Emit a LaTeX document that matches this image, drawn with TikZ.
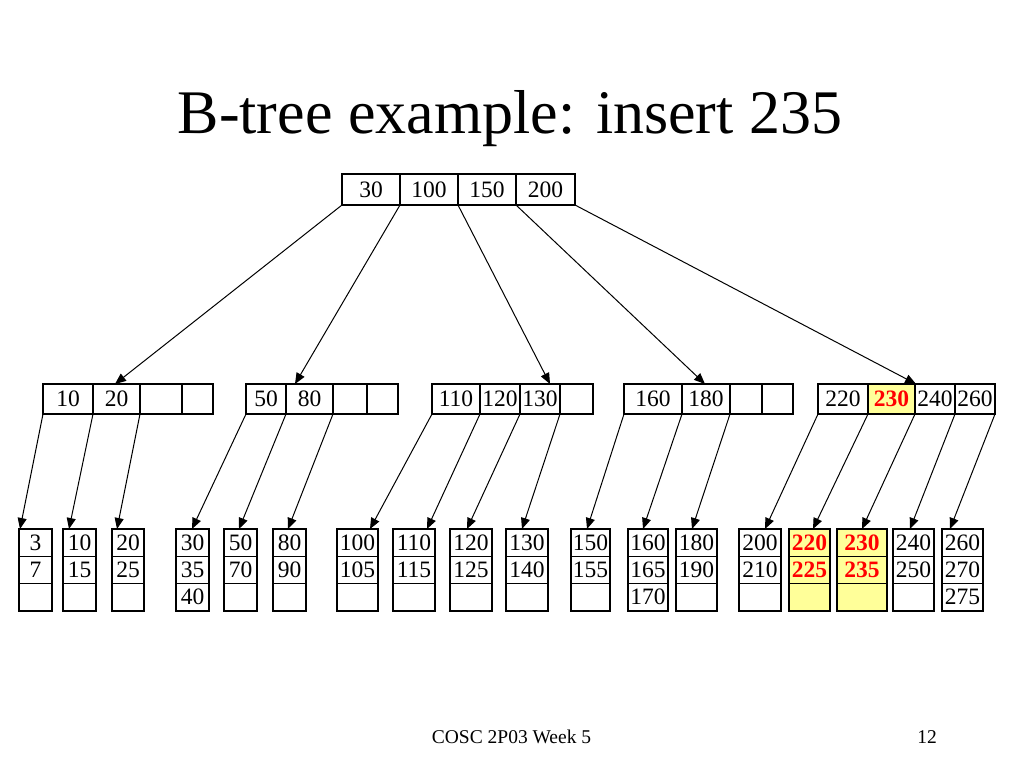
\documentclass[tikz,border=0pt]{standalone}
\usepackage{fontspec}
\setmainfont{Liberation Serif}
\usetikzlibrary{arrows.meta,calc}
\definecolor{hl}{RGB}{255,255,153}
\newcommand\leafnode[7]{%
  \node[cell,#7,minimum width=#3pt,minimum height=27.3pt] (#1a) at (#2,529) {#4};
  \node[cell,#7,minimum width=#3pt,minimum height=27.3pt] (#1b) at (#1a.south west) {#5};
  \node[cell,#7,minimum width=#3pt,minimum height=27.3pt] (#1c) at (#1b.south west) {#6};}
\begin{document}
\begin{tikzpicture}[x=1pt,y=-1pt,
  cell/.style={draw,line width=1.5pt,inner sep=0pt,outer sep=0pt,anchor=north west,font=\fontsize{23.5}{23.5}\selectfont},
  hot/.style={fill=hl,text=red,font=\fontsize{23.5}{23.5}\selectfont\bfseries},
  plain/.style={},
  link/.style={line width=1pt,-{Triangle[length=11pt,width=9pt]}}]
\useasboundingbox (0,0) rectangle (1024,768);
% title and footer
\node[anchor=base,font=\fontsize{62}{62}\selectfont,inner sep=0pt] (title) at (510,133) {B-tree example: insert 235};
\node[anchor=base,font=\fontsize{19.5}{19.5}\selectfont,inner sep=0pt] (foot) at (511.5,743) {COSC 2P03 Week 5};
\node[anchor=base,font=\fontsize{19.5}{19.5}\selectfont,inner sep=0pt] (page) at (927,743) {12};
% root
\node[cell,minimum width=58pt,minimum height=31pt] (r1) at (342,174) {30};
\node[cell,minimum width=58pt,minimum height=31pt] (r2) at (400,174) {100};
\node[cell,minimum width=58pt,minimum height=31pt] (r3) at (458,174) {150};
\node[cell,minimum width=59pt,minimum height=31pt] (r4) at (516,174) {200};
% level 2
\node[cell,minimum width=50pt,minimum height=30pt] (a1) at (43,384) {10};
\node[cell,minimum width=47pt,minimum height=30pt] (a2) at (93,384) {20};
\node[cell,minimum width=42pt,minimum height=30pt] (a3) at (140,384) {};
\node[cell,minimum width=31pt,minimum height=30pt] (a4) at (182,384) {};
\node[cell,minimum width=40pt,minimum height=30pt] (b1) at (246,384) {50};
\node[cell,minimum width=47pt,minimum height=30pt] (b2) at (286,384) {80};
\node[cell,minimum width=34pt,minimum height=30pt] (b3) at (333,384) {};
\node[cell,minimum width=31pt,minimum height=30pt] (b4) at (367,384) {};
\node[cell,minimum width=48pt,minimum height=30pt] (c1) at (432,384) {110};
\node[cell,minimum width=40pt,minimum height=30pt] (c2) at (480,384) {120};
\node[cell,minimum width=40pt,minimum height=30pt] (c3) at (520,384) {130};
\node[cell,minimum width=33pt,minimum height=30pt] (c4) at (560,384) {};
\node[cell,minimum width=58pt,minimum height=30pt] (d1) at (624,384) {160};
\node[cell,minimum width=48pt,minimum height=30pt] (d2) at (682,384) {180};
\node[cell,minimum width=32pt,minimum height=30pt] (d3) at (730,384) {};
\node[cell,minimum width=31pt,minimum height=30pt] (d4) at (762,384) {};
\node[cell,minimum width=50pt,minimum height=30pt] (e1) at (818,384) {220};
\node[cell,hot,minimum width=47pt,minimum height=30pt] (e2) at (868,384) {230};
\node[cell,minimum width=40pt,minimum height=30pt] (e3) at (915,384) {240};
\node[cell,minimum width=40pt,minimum height=30pt] (e4) at (955,384) {260};
% leaves
\leafnode{L1}{19}{33}{3}{7}{}{plain}
\leafnode{L2}{63}{33}{10}{15}{}{plain}
\leafnode{L3}{112}{32}{20}{25}{}{plain}
\leafnode{L4}{176}{33}{30}{35}{40}{plain}
\leafnode{L5}{224}{33}{50}{70}{}{plain}
\leafnode{L6}{273}{33}{80}{90}{}{plain}
\leafnode{L7}{337}{41}{100}{105}{}{plain}
\leafnode{L8}{393}{42}{110}{115}{}{plain}
\leafnode{L9}{450}{42}{120}{125}{}{plain}
\leafnode{L10}{506}{42}{130}{140}{}{plain}
\leafnode{L11}{571}{39}{150}{155}{}{plain}
\leafnode{L12}{628}{40}{160}{165}{170}{plain}
\leafnode{L13}{676}{41}{180}{190}{}{plain}
\leafnode{L14}{739}{42}{200}{210}{}{plain}
\leafnode{L15}{789}{41}{220}{225}{}{hot}
\leafnode{L16}{837}{50}{230}{235}{}{hot}
\leafnode{L17}{893}{41}{240}{250}{}{plain}
\leafnode{L18}{942}{41}{260}{270}{275}{plain}
% root links
\draw[link] (r1.south west) -- ([xshift=72pt]a1.north west);
\draw[link] (r2.south west) -- ([xshift=9pt]b2.north west);
\draw[link] (r3.south west) -- ([xshift=30pt]c3.north west);
\draw[link] (r4.south west) -- ([xshift=23pt]d2.north west);
\draw[link] (r4.south east) -- ([xshift=1pt]e3.north west);
% level 2 links
\draw[link] (a1.south west) -- ([xshift=1pt]L1a.north west);
\draw[link] (a2.south west) -- ([xshift=6pt]L2a.north west);
\draw[link] (a3.south west) -- ([xshift=5pt]L3a.north west);
\draw[link] (b1.south west) -- ([xshift=16pt]L4a.north west);
\draw[link] (b2.south west) -- ([xshift=15pt]L5a.north west);
\draw[link] (b3.south west) -- ([xshift=15pt]L6a.north west);
\draw[link] (c1.south west) -- ([xshift=33pt]L7a.north west);
\draw[link] (c2.south west) -- ([xshift=34pt]L8a.north west);
\draw[link] (c3.south west) -- ([xshift=17pt]L9a.north west);
\draw[link] (c4.south west) -- ([xshift=16pt]L10a.north west);
\draw[link] (d1.south west) -- ([xshift=16pt]L11a.north west);
\draw[link] (d2.south west) -- ([xshift=15pt]L12a.north west);
\draw[link] (d3.south west) -- ([xshift=16pt]L13a.north west);
\draw[link] (e1.south west) -- ([xshift=26pt]L14a.north west);
\draw[link] (e2.south west) -- ([xshift=24pt]L15a.north west);
\draw[link] (e3.south west) -- ([xshift=25pt]L16a.north west);
\draw[link] (e4.south west) -- ([xshift=17pt]L17a.north west);
\draw[link] (e4.south east) -- ([xshift=8pt]L18a.north west);
\end{tikzpicture}
\end{document}
